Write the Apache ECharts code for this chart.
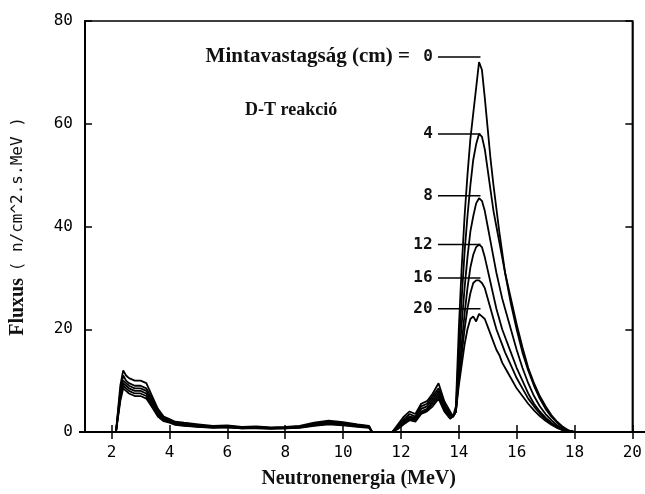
<!DOCTYPE html>
<html><head><meta charset="utf-8">
<script src="https://cdn.jsdelivr.net/npm/echarts@6/dist/echarts.min.js"></script>
<style>html,body{margin:0;padding:0;background:#fff}#c{width:645px;height:494px}</style>
</head><body><div id="c"></div>
<script>
// Energy grid (MeV)
const energy = [2.0,2.15,2.3,2.4,2.5,2.6,2.8,3.0,3.2,3.4,3.6,3.8,4.0,4.2,4.5,5.0,5.5,6.0,6.5,7.0,7.5,8.0,8.5,9.0,9.5,10.0,10.5,10.9,11.0,11.7,11.9,12.1,12.3,12.5,12.7,12.9,13.1,13.3,13.5,13.7,13.8,
  13.9,14.0,14.1,14.2,14.3,14.4,14.5,14.6,14.7,14.8,14.9,15.0,15.1,15.2,15.3,15.4,15.5,15.6,15.8,16.0,16.2,16.4,16.6,16.8,17.0,17.2,17.4,17.6,17.8,18.0];
// Sample thickness labels (cm)
const thickness = ['0','4','8','12','16','20'];
// Flux values per thickness
const flux0  = [0,0,9,12,11,10.5,10,10,9.5,7,4.5,3,2.5,2,1.8,1.5,1.2,1.3,1.0,1.1,0.9,1.0,1.2,1.8,2.2,1.9,1.5,1.2,0,0,1.5,3,4,3.5,5.5,6,7.5,9.5,6,4,3,
  5,20,32,42,50,57,62,67,72,70.5,65,59,53,48,43.5,39,35,31,25,20,15.5,12,9,6.5,4.5,3,1.8,0.8,0.2,0];
const flux4  = [0,0,8,11,10,9.5,9,9,8.5,6.5,4,2.8,2.3,1.8,1.6,1.3,1.1,1.2,0.9,1.0,0.8,0.9,1.1,1.6,2.0,1.7,1.4,1.1,0,0,1.2,2.5,3.5,3,5,5.5,7,8.5,5.5,3.5,3,
  4,16,26,35,42,48,53,56,58,57.5,55,51,47,43,40,37,34,31,26,21,16.5,12.5,9.5,7,5,3.3,2,1,0.3,0];
const flux8  = [0,0,7.5,10,9.5,9,8.5,8.5,8,6,3.8,2.6,2.1,1.7,1.5,1.2,1.0,1.1,0.8,0.9,0.8,0.8,1.0,1.5,1.8,1.6,1.3,1.0,0,0,1.0,2.2,3,2.8,4.5,5,6.5,8,5,3.2,3,
  4,13,21,28,34,39,42,44.5,45.5,45,43,40,37,34,31,28.5,26,24,20,16,12.5,9.5,7,5,3.5,2.3,1.3,0.6,0.2,0];
const flux12 = [0,0,7,9.5,9,8.5,8,8,7.5,5.5,3.5,2.4,2.0,1.6,1.4,1.1,0.9,1.0,0.8,0.8,0.7,0.8,0.9,1.4,1.7,1.5,1.2,0.9,0,0,0.8,2,2.8,2.5,4,4.5,6,7.5,4.5,3,3,
  4,11,17,23,28,32,34.5,36,36.5,36,34,31.5,29,26.5,24,22,20,18.5,15.5,12.5,10,7.5,5.5,4,2.8,1.8,1,0.5,0.1,0];
const flux16 = [0,0,6.5,9,8.5,8,7.5,7.5,7,5,3.2,2.2,1.9,1.5,1.3,1.0,0.9,0.9,0.7,0.8,0.7,0.7,0.9,1.3,1.6,1.4,1.1,0.9,0,0,0.7,1.8,2.5,2.3,3.7,4.2,5.5,7,4.2,2.8,3,
  4,10,15,20,24,27,29,29.5,29.5,29,28,26,24,22,20,18.5,17,15.5,13,10.5,8.5,6.5,5,3.6,2.5,1.6,0.9,0.4,0.1,0];
const flux20 = [0,0,6,8.5,8,7.5,7,7,6.5,4.8,3,2.1,1.8,1.4,1.2,1.0,0.8,0.9,0.7,0.7,0.6,0.7,0.8,1.2,1.5,1.3,1.0,0.8,0,0,0.6,1.5,2.3,2,3.5,4,5,6.5,4,2.6,3,
  4,9,13,17,20,22,22.5,21.5,23,22.5,22,20.5,19,17.5,16,15,13.5,12.5,10.5,8.5,7,5.5,4.2,3.1,2.2,1.4,0.8,0.3,0.1,0];
// Peak label anchors (energy, flux) per thickness
const peakE = 14.75;
const peakFlux = [73,58,46,36.5,30,24];
// Tick labels
const xTicks = [2,4,6,8,10,12,14,16,18,20];

const allFlux = [flux0,flux4,flux8,flux12,flux16,flux20];
const chart = echarts.init(document.getElementById('c'), null, {renderer:'canvas'});
const tickFont = {fontFamily:'DejaVu Sans Mono', fontSize:16, color:'#000'};
const series = allFlux.map((f,i)=>({
  name: thickness[i], type:'line', showSymbol:false, symbol:'none',
  data: energy.map((e,j)=>[e,f[j]]),
  lineStyle:{color:'#000', width:1.8}, animation:false, z:3
}));
chart.setOption({
  animation:false,
  grid:{left:79,right:10,top:21,bottom:58,show:true,borderColor:'#000',borderWidth:1.5,backgroundColor:'transparent'},
  xAxis:[{
    type:'value', min:1.08, max:20, position:'bottom',
    axisLine:{show:true,onZero:false,lineStyle:{color:'#000',width:2}},
    axisTick:{show:true,inside:true,length:7,customValues:xTicks,lineStyle:{color:'#000',width:1.5}},
    axisLabel:{customValues:xTicks,margin:13,...tickFont},
    splitLine:{show:false},
    name:'Neutronenergia (MeV)', nameLocation:'middle', nameGap:37,
    nameTextStyle:{fontFamily:'Liberation Serif',fontWeight:'bold',fontSize:20,color:'#111'}
  },{
    type:'value', min:1.08, max:20, position:'top',
    axisLine:{show:true,lineStyle:{color:'#000',width:1.5}},
    axisTick:{show:true,inside:true,length:7,customValues:xTicks,lineStyle:{color:'#000',width:1.5}},
    axisLabel:{show:false}, splitLine:{show:false}
  }],
  yAxis:[{
    type:'value', min:0, max:80, interval:20, position:'left',
    axisLine:{show:true,lineStyle:{color:'#000',width:2}},
    axisTick:{show:true,inside:true,length:7,lineStyle:{color:'#000',width:1.5}},
    axisLabel:{margin:12,...tickFont},
    splitLine:{show:false},
    name:'{b|Fluxus}  {m|( n/cm^2.s.MeV )}', nameLocation:'middle', nameGap:57, nameRotate:90,
    nameTextStyle:{rich:{
      b:{fontFamily:'Liberation Serif',fontWeight:'bold',fontSize:20,color:'#111'},
      m:{fontFamily:'DejaVu Sans Mono',fontSize:16,color:'#111'}
    }}
  },{
    type:'value', min:0, max:80, interval:20, position:'right',
    axisLine:{show:true,lineStyle:{color:'#000',width:1.5}},
    axisTick:{show:true,inside:true,length:7,lineStyle:{color:'#000',width:1.5}},
    axisLabel:{show:false}, splitLine:{show:false}
  }],
  series: series
});

// Annotations anchored through the axes
const g = [];
const labelX = [428,428,428,423,423,423];
peakFlux.forEach((v,i)=>{
  const p = chart.convertToPixel({xAxisIndex:0,yAxisIndex:0},[peakE,v]);
  g.push({type:'line',shape:{x1:438,y1:p[1],x2:p[0],y2:p[1]},style:{stroke:'#000',lineWidth:1.5},z:10});
  g.push({type:'text',x:labelX[i],y:p[1],style:{text:thickness[i],fontFamily:'DejaVu Sans Mono',fontSize:16,fontWeight:'bold',fill:'#111',align:'center',verticalAlign:'middle'},z:10});
});
const p0 = chart.convertToPixel({xAxisIndex:0,yAxisIndex:0},[peakE,peakFlux[0]]);
g.push({type:'text',x:410,y:p0[1],style:{text:'Mintavastagság (cm) =',fontFamily:'Liberation Serif',fontWeight:'bold',fontSize:21,fill:'#111',align:'right',verticalAlign:'middle'},z:10});
g.push({type:'text',x:245,y:110,style:{text:'D-T reakció',fontFamily:'Liberation Serif',fontWeight:'bold',fontSize:18,fill:'#111',align:'left',verticalAlign:'middle'},z:10});
// extension of the bottom axis line past the frame
const pb = chart.convertToPixel({xAxisIndex:0,yAxisIndex:0},[20,0]);
const pl = chart.convertToPixel({xAxisIndex:0,yAxisIndex:0},[1.08,0]);
g.push({type:'line',shape:{x1:pl[0]-6,y1:pb[1],x2:645,y2:pb[1]},style:{stroke:'#000',lineWidth:2}});
chart.setOption({graphic:g});
</script></body></html>
